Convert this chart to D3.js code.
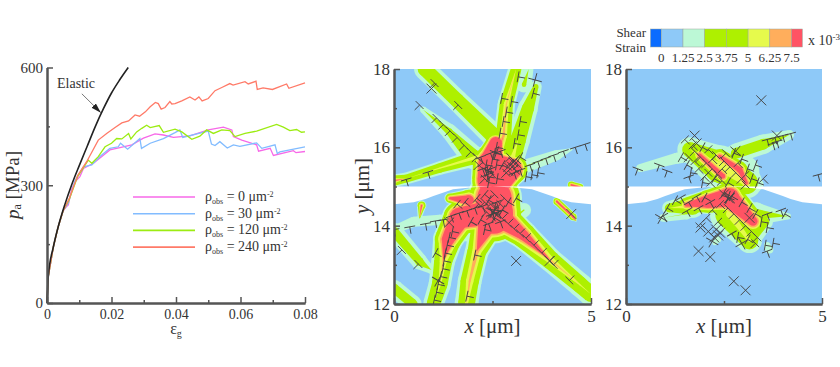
<!DOCTYPE html>
<html>
<head>
<meta charset="utf-8">
<script src="https://cdn.jsdelivr.net/npm/d3@7"></script>
<style>
  html, body { margin: 0; padding: 0; background: #fff; }
  svg { display: block; }
  text { font-family: "Liberation Serif", serif; fill: #333; }
</style>
</head>
<body>
<div id="canvas"></div>
<script>
// stress-strain curves, [strain, MPa]
const start = [[0, 0], [.0004, 68], [.002, 144], [.0035, 195], [.005, 235]];
const elastic = [[0, 0], [.0004, 68], [.002, 144], [.0035, 195], [.0055, 250], [.0076, 300], [.01, 350], [.0125, 400], [.015, 450], [.0175, 495], [.02, 535], [.0225, 568], [.0252, 600]];
const rho0 = [...start, [.006, 245], [.0066, 250], [.0076, 288], [.0087, 309], [.0102, 322], [.0113, 343], [.0144, 356], [.017, 373], [.0195, 390], [.0226, 396], [.0263, 403], [.0299, 420], [.0335, 431], [.0361, 428], [.0392, 422], [.0443, 426], [.05, 441], [.0547, 448], [.0573, 441], [.0578, 424], [.0604, 415], [.065, 403], [.0656, 387], [.0692, 394], [.0702, 376], [.0764, 388], [.0772, 383], [.08, 386]];
const rho30 = [...start, [.0066, 255], [.0087, 312], [.0113, 347], [.0139, 352], [.0164, 373], [.0195, 394], [.0221, 398], [.0228, 407], [.025, 392], [.0288, 419], [.0293, 394], [.032, 407], [.0361, 419], [.0397, 434], [.0412, 441], [.0421, 422], [.0465, 431], [.05, 438], [.051, 405], [.0521, 401], [.0536, 411], [.0559, 395], [.0578, 403], [.0598, 399], [.065, 408], [.0666, 394], [.0707, 403], [.0714, 381], [.0722, 385], [.08, 398]];
const rho120 = [...start, [.0068, 262], [.0095, 322], [.0128, 364], [.0139, 356], [.0159, 373], [.018, 398], [.02, 407], [.0216, 419], [.0232, 418], [.0253, 432], [.026, 418], [.0278, 436], [.0294, 445], [.0309, 453], [.032, 447], [.0348, 452], [.0361, 435], [.0397, 443], [.0418, 436], [.0449, 417], [.0474, 425], [.0495, 441], [.0516, 432], [.0542, 441], [.0567, 439], [.0583, 424], [.0614, 432], [.065, 438], [.0712, 455], [.0733, 448], [.0753, 439], [.0774, 442], [.0789, 435], [.08, 436]];
const rho240 = [...start, [.007, 268], [.0095, 325], [.0123, 360], [.0159, 415], [.0185, 432], [.0211, 447], [.0232, 459], [.0253, 464], [.0273, 479], [.0287, 476], [.0305, 487], [.032, 500], [.0336, 511], [.0345, 508], [.0354, 494], [.0366, 498], [.0381, 513], [.0387, 507], [.0397, 508], [.0418, 515], [.0443, 525], [.0459, 517], [.0471, 525], [.0481, 515], [.05, 521], [.0521, 541], [.0542, 549], [.0567, 559], [.0577, 555], [.0614, 564], [.0624, 558], [.0648, 565], [.0652, 544], [.067, 548], [.0699, 544], [.0743, 558], [.075, 547], [.08, 561]];

const curveNames = ['0', '30', '120', '240'];
const curveColors = ['#f768e8', '#82bcff', '#9cec12', '#ff7a68'];
const curves = [rho0, rho30, rho120, rho240];

// colour bar
const strainLevels = [0, 1.25, 2.5, 3.75, 5, 6.25, 7.5];
const strainLabels = ['0', '1.25', '2.5', '3.75', '5', '6.25', '7.5'];
const strainColors = ['#0a6cff', '#8ec9f8', '#bcf8d6', '#aef000', '#aef000', '#e6fa4c', '#ffae5c', '#ff5364'];

// strain ridges, each point [x, y, half width um, peak strain]
const ridgesA = [
  [[.78, 18, .27, 5], [1.6, 17.2, .27, 5], [2.52, 16.3, .3, 5]],
  [[.74, 16.96, .08, 1.8], [1.4, 16.4, .2, 3.4], [2, 15.75, .3, 5]],
  [[3.1, 18, .2, 5], [2.85, 17.1, .22, 6.5], [2.78, 16.3, .25, 7], [2.6, 15.8, .3, 8]],
  [[3.6, 17.55, .15, 3.5], [3.4, 17, .25, 4.5], [3.15, 16.2, .3, 5], [3, 15.7, .3, 6]],
  [[3.42, 18, .12, 2], [3.3, 17.6, .2, 3]],
  [[0, 15.15, .16, 7.8], [.3, 15.2, .15, 5], [1.16, 15.47, .17, 5.4], [2.1, 15.75, .22, 6]],
  [[3.2, 15.47, .18, 2.6], [4.13, 15.8, .13, 2.3], [4.5, 15.95, .03, 1.6]],
  [[2.58, 16.1, .28, 16], [2.45, 15.6, .48, 18], [2.4, 15.15, .45, 18]],
  [[2.5, 15.6, .42, 16], [3, 15.45, .42, 16], [2.8, 15.1, .32, 16]],
  [[4.5, 15.04, .1, 9], [4.72, 14.98, .1, 9]],
  [[2.55, 14.7, .7, 18], [2.52, 14.3, .75, 20]],
  [[2.52, 14.35, .5, 18], [1.67, 14.2, .45, 16], [1.37, 13.65, .38, 12], [1.25, 13.1, .3, 6.6], [1.16, 12.5, .28, 5.5], [1, 12, .26, 5]],
  [[2.39, 14.1, .45, 16], [2.1, 13.34, .3, 7.3], [1.92, 12.58, .3, 6.7], [1.84, 12, .3, 5.5]],
  [[2.52, 14.35, .5, 18], [3.28, 13.76, .36, 11], [3.96, 13.13, .3, 6.6], [4.72, 12.49, .3, 5.2], [5, 12.25, .3, 5]],
  [[0, 13.9, .1, 2.4], [.5, 14.1, .13, 2.4], [1.16, 14.15, .13, 2.4], [1.6, 14.2, .1, 2.6]],
  [[0, 13.85, .22, 4], [.65, 13.08, .2, 3.8], [.95, 12.87, .1, 2]],
  [[0, 12.4, .22, 4], [.48, 12, .22, 4]],
  [[1.6, 13.68, .07, 2.4], [2.1, 13.66, .07, 2.4]],
  [[1.75, 14.15, .06, 2.4], [2.1, 14.12, .07, 2.4], [2.12, 13.7, .07, 2.4]],
  [[.7, 14.52, .12, 8.5], [.65, 14.2, .05, 3]],
  [[4.13, 14.62, .1, 9], [4.55, 14.22, .1, 9], [4.62, 14.12, .02, 3]],
  [[1.42, 14.7, .14, 9], [1.9, 14.65, .3, 12]],
  [[3.3, 14.4, .18, 2.6], [2.8, 14, .2, 3]]
];
const ridgesB = [
  [[.36, 15.47, .1, 2.1], [1.29, 15.72, .14, 2.3], [1.7, 15.8, .16, 2.5]],
  [[1.63, 15.94, .32, 4.5], [2.4, 15.5, .55, 6], [3.07, 15.1, .4, 6]],
  [[1.88, 15.8, .22, 9], [2.47, 15.26, .22, 10]],
  [[2.39, 15.77, .22, 9], [2.9, 15.43, .24, 10], [3.07, 15.09, .2, 9]],
  [[2.81, 15.85, .25, 4], [3.5, 16.08, .25, 4], [4.17, 16.32, .12, 2.4]],
  [[3, 15.4, .4, 2.3], [3.35, 15.05, .16, 2]],
  [[1.54, 14.53, .22, 9], [2.1, 14.62, .32, 14], [2.64, 14.72, .42, 16]],
  [[2.64, 14.7, .42, 16], [3.24, 14.11, .32, 11]],
  [[1.1, 14.45, .18, 4.5], [1.7, 14.5, .3, 6]],
  [[2.64, 14.3, .5, 5.8], [3.15, 13.62, .32, 5.5]],
  [[.95, 14.2, .1, 2.2], [1.55, 14.3, .14, 2.6]],
  [[3.3, 14.3, .3, 3.5], [4.13, 14.24, .08, 1.9]],
  [[3.55, 14.1, .2, 4], [3.25, 13.7, .22, 3.5]],
  [[3.66, 13.39, .1, 1.9], [3.6, 13.5, .08, 1.6]],
  [[2.26, 13.56, .06, 1.8], [2.35, 13.65, .08, 1.8]]
];

// crack opening, the white gap: [x, y]
const gap = [[0, 15], [5, 15], [5, 14.55], [4.5, 14.6], [4.2, 14.68], [4, 14.76], [3.5, 14.93], [3, 14.98], [2.5, 15], [2, 14.98], [1.5, 14.93], [1, 14.76], [.8, 14.68], [.5, 14.6], [0, 14.55]];

// dislocations [x, y, slip angle in degrees]
const edgeA = [
  [1.03, 17.64, -45], [1.63, 17.08, -45], [.65, 17.08, -45],
  [1.08, 16.75, -45], [1.25, 16.58, -45], [1.42, 16.42, -45], [1.6, 16.25, -45], [1.78, 16.05, -45], [1.95, 15.88, -45], [2.1, 15.75, -45], [2.25, 15.62, -45],
  [3.15, 17.8, 80], [2.73, 17.25, 80], [2.98, 17.17, 80], [2.77, 16.66, 80], [3.2, 16.66, 80], [3.15, 16.32, 80], [2.69, 16.36, 80], [3.53, 17.38, 75], [2.85, 16.9, 80], [3.05, 16.1, 80],
  [3.2, 15.42, 18], [3.45, 15.55, 18], [3.65, 15.64, 18], [3.85, 15.72, 18], [4.05, 15.8, 18], [4.3, 15.9, 18], [4.6, 16, 18], [4.85, 16.08, 18], [3.05, 15.35, 18], [3.35, 15.25, 80], [3.5, 15.3, 80], [3.65, 15.35, 80],
  [.31, 15.18, 17], [.86, 15.37, 17],
  [2.4, 15.1, 80], [2.38, 15.25, 80], [2.36, 15.4, 80], [2.34, 15.55, 80], [2.5, 15.7, 80], [2.55, 15.85, 80], [2.6, 16, 80], [2.2, 15.75, 20], [2.45, 15.85, 20], [2.7, 15.9, 20],
  [2.9, 15.5, -45], [3.05, 15.65, -45], [3.15, 15.55, -45], [2.95, 15.75, -45], [3.1, 15.4, -45], [2.85, 15.35, -45], [3.2, 15.75, 60], [2.75, 15.55, 60],
  [2.3, 15.2, -45], [2.5, 15.3, -45], [2.45, 15.45, 20], [2.25, 15.45, 20], [2.6, 15.55, 80], [2.62, 15.2, 80], [2.15, 15.55, -45], [2.95, 15.6, 45], [3.1, 15.7, 45], [2.9, 15.4, 45],
  [3.95, 13.1, 135], [2.6, 14.28, 135], [2.75, 14.18, 135], [2.9, 14.05, 135], [3.05, 13.92, 135], [3.2, 13.8, 135], [3.35, 13.68, 135], [3.55, 13.5, 135], [3.75, 13.3, 135], [4.05, 13, 135], [4.45, 12.6, 135],
  [1.4, 13.7, 78], [1.35, 13.5, 78], [1.3, 13.3, 78], [1.27, 13.1, 78], [1.24, 12.9, 78], [1.18, 12.7, 78], [1.12, 12.5, 78], [1.08, 12.3, 78], [1.02, 12.1, 78], [1.48, 13.85, 78],
  [2.05, 13.25, 78], [1.85, 12.2, 78], [2.3, 13.9, 78], [2.4, 14.05, 20], [2.7, 14.1, 20],
  [0, 13.9, 10], [.4, 13.97, 10], [.8, 14.05, 10], [1.05, 14.12, 10], [1.25, 14.15, 10], [1.45, 14.25, 20], [1.65, 14.32, 20], [1.85, 14.38, 20], [2.05, 14.45, 20], [2.25, 14.5, 20],
  [1.6, 14.55, 50], [1.8, 14.6, 50], [2.1, 14.7, 50], [2.3, 14.8, 50], [2.45, 14.55, -45], [2.6, 14.45, -45], [2.7, 14.55, -45], [2.35, 14.35, -45], [2.55, 14.2, 60], [2.75, 14.4, 60], [2.9, 14.6, 60], [3.1, 14.7, 60], [2.2, 14.15, 60], [1.95, 14.1, 60],
  [2.4, 14.65, 60], [2.6, 14.6, 20], [2.45, 14.25, 45], [2.65, 14.35, 20], [2.3, 14.6, -45], [2.8, 14.7, -45], [2.15, 14.55, -45], [2.55, 14.8, -45],
  [.2, 13.38, -45], [.62, 13.02, -45], [1.05, 13.3, 60]
];
const crossA = [
  [.95, 17.5, -45], [3.58, 17.72, 75], [2.39, 15.39, 60], [2.36, 15.3, 20], [2.6, 15.86, 70], [3.03, 15.62, 45], [3, 15.5, -45], [2.52, 14.35, 60], [2.52, 14.35, -45], [2.5, 14.3, 20], [2.55, 14.4, 80], [3.95, 13.1, 45], [3.1, 13.1, -45], [4.5, 14.3, 45], [1.12, 12.6, 60], [1.4, 14.08, 45]
];
const edgeB = [
  [.3, 15.45, -20], [.85, 15.55, -20], [1.05, 15.4, -20],
  [1.4, 15.75, 60], [1.55, 15.55, 60], [1.65, 15.35, 80], [1.6, 15.25, 20], [1.75, 15.65, 45], [1.85, 15.45, 45], [2, 15.25, 45], [2.15, 15.1, 45], [1.7, 16.05, 45], [1.5, 16.2, 45], [2.1, 15.95, 45],
  [1.9, 15.75, -45], [2.05, 15.6, -45], [2.2, 15.45, -45], [2.35, 15.3, -45], [2.45, 15.15, -45], [2.3, 15.8, -45], [2.5, 15.65, -45], [2.65, 15.5, -45], [2.8, 15.35, -45], [2.95, 15.2, -45], [3.05, 15.05, -45],
  [2.75, 15.85, 70], [2.95, 15.7, 70], [3.1, 15.45, 70], [3.2, 15.2, 70], [3.35, 15.1, 70], [3.3, 15.55, 70], [3.5, 15.2, 45], [2.6, 15.1, 60],
  [1.75, 15.9, -45], [1.95, 16, 60], [2.2, 15.7, 45], [2.45, 15.45, 45], [2.55, 15.85, -45], [2.1, 15.35, -45], [2.25, 15.2, 60], [1.95, 15.1, 80], [2.85, 15.6, 45], [3.05, 15.3, 45], [1.6, 15.75, -45],
  [3.6, 16.2, 15], [3.8, 16.25, 15], [4, 16.3, 15], [4.2, 16.35, 15], [3.85, 16.15, 15], [3.75, 16.1, 15], [4.9, 15.3, 15],
  [.95, 14.25, 30], [1.05, 14.45, 60], [1.25, 14.65, 60], [1.4, 14.72, 30], [1.6, 14.6, 30], [1.8, 14.75, 30], [2, 14.72, 60], [2.15, 14.6, 30], [1.55, 14.38, 30], [1.85, 14.45, 30], [2.2, 14.4, 45], [2.4, 14.55, 45],
  [2.6, 14.45, -45], [2.75, 14.3, -45], [2.9, 14.15, -45], [3.05, 14, -45], [3.2, 13.85, -45], [3.35, 13.7, -45], [2.5, 14.85, 60], [2.7, 14.75, 60], [2.95, 14.6, 60], [3.15, 14.45, 60], [3.3, 14.3, 60], [3.45, 14.1, 80], [3.6, 13.95, 80], [3.6, 14.3, 20],
  [2.35, 14.1, 45], [2.05, 14.2, 45], [1.9, 14.05, 45], [2.7, 13.8, 30], [2.85, 13.7, 80], [3.1, 13.65, 60], [3.3, 13.55, -45], [3.55, 13.5, 80], [3.75, 13.55, 80], [3.6, 13.35, 20],
  [3.95, 14.4, 20], [4.05, 14.3, 60]
];
const crossB = [
  [3.45, 17.2, -45], [1.75, 16.3, 45], [1.8, 16.1, -45], [3.85, 16.3, -45], [2.8, 15.9, 50], [2.5, 14.8, 45], [2.62, 14.7, -45], [2.65, 14.7, 45], [2.6, 14.72, 70],
  [1.9, 13.95, -45], [2.3, 13.9, 45], [2.35, 13.75, -45], [2.25, 13.7, 45], [2.4, 13.82, -45], [2.2, 13.6, 60], [2.1, 13.85, -45],
  [1.85, 13.35, -45], [2.15, 13.2, -45], [2.75, 12.58, -45], [3.05, 12.35, -45], [2.95, 13.55, 30], [.9, 14.2, 60], [3.15, 14.2, 45]
];

const pX = d3.scaleLinear().domain([0, .08]).range([47, 305]);
const pY = d3.scaleLinear().domain([0, 600]).range([303, 67.5]);
const mapY = d3.scaleLinear().domain([12, 18]).range([304, 69]);
const mapX1 = d3.scaleLinear().domain([0, 5]).range([394, 591]);
const mapX2 = d3.scaleLinear().domain([0, 5]).range([626, 822]);

const svg = d3.select('#canvas').append('svg').attr('width', 840).attr('height', 367);
const ink = '#555';

// the source is a soft raster, so the drawn fields get a slight blur
svg.append('defs').append('filter').attr('id', 'soft').append('feGaussianBlur').attr('stdDeviation', .5);

const styleAxis = function (g, size) {
  g.select('.domain').attr('stroke', ink).attr('stroke-width', 2);
  g.selectAll('.tick line').attr('stroke', ink).attr('stroke-width', 1.5);
  g.selectAll('.tick text').attr('fill', '#333').attr('font-family', '"Liberation Serif", serif').attr('font-size', size);
};

const drawAxes = function (x, y, xTicks, xMinor, yTicks, yMinor, xFmt, yFmt, sizeX, sizeY) {
  const bottom = y.range()[0];
  const left = x.range()[0];
  svg.append('g').attr('transform', `translate(0,${bottom})`)
    .call(d3.axisBottom(x).tickValues(xMinor).tickSizeInner(-3).tickSizeOuter(0).tickFormat(''))
    .call(styleAxis, sizeX);
  svg.append('g').attr('transform', `translate(${left},0)`)
    .call(d3.axisLeft(y).tickValues(yMinor).tickSizeInner(-3).tickSizeOuter(0).tickFormat(''))
    .call(styleAxis, sizeY);
  svg.append('g').attr('transform', `translate(0,${bottom})`)
    .call(d3.axisBottom(x).tickValues(xTicks).tickSizeInner(-6).tickSizeOuter(0).tickPadding(6).tickFormat(xFmt))
    .call(styleAxis, sizeX);
  svg.append('g').attr('transform', `translate(${left},0)`)
    .call(d3.axisLeft(y).tickValues(yTicks).tickSizeInner(-6).tickSizeOuter(0).tickPadding(4).tickFormat(yFmt))
    .call(styleAxis, sizeY);
};

/*
Left plot
*/
const line = d3.line().x(d => pX(d[0])).y(d => pY(d[1]));
svg.append('g').selectAll('path').data(curves).join('path')
  .attr('d', line).attr('fill', 'none').attr('stroke-width', 1.3)
  .attr('stroke', (d, i) => curveColors[i]);
svg.append('path').attr('d', line.curve(d3.curveMonotoneX)(elastic)).attr('fill', 'none').attr('stroke', '#222').attr('stroke-width', 1.6);
line.curve(d3.curveLinear);
drawAxes(pX, pY, [0, .02, .04, .06, .08], [.01, .03, .05, .07], [0, 300, 600], [150, 450],
  d => d === 0 ? '0' : d3.format('.2f')(d), d => d, 14, 15);

// elastic note
svg.append('text').attr('x', pX(.0031)).attr('y', pY(548)).attr('font-size', 14).text('Elastic');
svg.select('defs').append('marker').attr('id', 'head').attr('viewBox', '0 0 10 6').attr('refX', 10).attr('refY', 3)
  .attr('markerWidth', 10).attr('markerHeight', 6).attr('orient', 'auto').attr('markerUnits', 'userSpaceOnUse')
  .append('path').attr('d', 'M0,0L10,3L0,6Z').attr('fill', '#222');
svg.append('line').attr('x1', pX(.0108)).attr('y1', pY(533)).attr('x2', pX(.0167)).attr('y2', pY(485))
  .attr('stroke', '#555').attr('stroke-width', .8).attr('marker-end', 'url(#head)');

// legend
const legend = svg.append('g').selectAll('g').data(curveNames).join('g')
  .attr('transform', (d, i) => `translate(0,${197 + i * 16.7})`);
legend.append('line').attr('x1', 133).attr('x2', 195)
  .attr('stroke', (d, i) => curveColors[i]).attr('stroke-width', 1.6);
const legendText = legend.append('text').attr('x', 205).attr('y', 4).attr('font-size', 14);
legendText.append('tspan').text('ρ');
legendText.append('tspan').attr('font-size', 8).attr('dy', 3).text('obs');
legendText.append('tspan').attr('dy', -3).text(d => ` = ${d} μm`);
legendText.append('tspan').attr('font-size', 8).attr('dy', -4).text('-2');

const pLabel = svg.append('text').attr('transform', 'translate(19,185) rotate(-90)').attr('text-anchor', 'middle').attr('font-size', 19);
pLabel.append('tspan').attr('font-style', 'italic').text('p');
pLabel.append('tspan').attr('font-size', 12).attr('dy', 2).text('a');
pLabel.append('tspan').attr('dy', -2).text(' [MPa]');
const eLabel = svg.append('text').attr('x', 176).attr('y', 334).attr('text-anchor', 'middle').attr('font-size', 16);
eLabel.append('tspan').text('ε');
eLabel.append('tspan').attr('font-size', 10).attr('dy', 3).text('g');

/*
Strain maps
*/
const levelWidth = (w, peak, t) => Math.max(0, w * (peak - t) / (peak - 1.25));

const ridgeShapes = function (ridges, x, y, t) {
  const k = Math.abs(x(1) - x(0));
  const shapes = [];
  ridges.forEach(r => {
    const pts = r.map(p => ({ px: x(p[0]), py: y(p[1]), w: levelWidth(p[2], p[3], t) * k }));
    pts.forEach((a, i) => {
      if (a.w > 0) {
        const c = d3.path();
        c.arc(a.px, a.py, a.w, 0, 2 * Math.PI);
        shapes.push(c.toString());
      }
      const b = pts[i + 1];
      if (!b || (a.w <= 0 && b.w <= 0)) return;
      const len = Math.hypot(b.px - a.px, b.py - a.py);
      const nx = -(b.py - a.py) / len;
      const ny = (b.px - a.px) / len;
      const q = d3.path();
      q.moveTo(a.px + nx * a.w, a.py + ny * a.w);
      q.lineTo(b.px + nx * b.w, b.py + ny * b.w);
      q.lineTo(b.px - nx * b.w, b.py - ny * b.w);
      q.lineTo(a.px - nx * a.w, a.py - ny * a.w);
      q.closePath();
      shapes.push(q.toString());
    });
  });
  return shapes;
};

const drawMap = function (id, x, ridges, edges, crosses) {
  const [x0, x1] = x.range();
  const [y0, y1] = mapY.range();
  svg.append('clipPath').attr('id', id).append('rect')
    .attr('x', x0).attr('y', y1).attr('width', x1 - x0).attr('height', y0 - y1);
  const g = svg.append('g').attr('clip-path', `url(#${id})`);
  g.append('rect').attr('x', x0).attr('y', y1).attr('width', x1 - x0).attr('height', y0 - y1).attr('fill', strainColors[1]);
  const field = g.append('g').attr('filter', 'url(#soft)');
  // one layer per colour band, lowest strain first
  [[1.25, 2], [2.5, 3], [5, 5], [6.25, 6], [7.5, 7]].forEach(([t, c]) => {
    field.append('g').selectAll('path').data(ridgeShapes(ridges, x, mapY, t)).join('path')
      .attr('d', d => d).attr('fill', strainColors[c]);
  });
  g.append('path').attr('fill', '#fff')
    .attr('d', d3.line().x(d => x(d[0])).y(d => mapY(d[1])).curve(d3.curveLinear)(gap));
  g.append('g').selectAll('path').data(edges).join('path')
    .attr('transform', d => `translate(${x(d[0])},${mapY(d[1])}) rotate(${-d[2]})`)
    .attr('d', 'M-5.5,0L5.5,0M0,0L0,7').attr('fill', 'none').attr('stroke', '#444').attr('stroke-width', .9);
  g.append('g').selectAll('path').data(crosses).join('path')
    .attr('transform', d => `translate(${x(d[0])},${mapY(d[1])}) rotate(${-d[2]})`)
    .attr('d', 'M-7,0L7,0M0,-7L0,7').attr('fill', 'none').attr('stroke', '#444').attr('stroke-width', .9);
  drawAxes(x, mapY, [0, 5], [2.5], [12, 14, 16, 18], [13, 15, 17], d => d, d => d, 17, 17);
  const lab = svg.append('text').attr('x', (x0 + x1) / 2).attr('y', 333).attr('text-anchor', 'middle').attr('font-size', 21);
  lab.append('tspan').attr('font-style', 'italic').text('x');
  lab.append('tspan').text(' [μm]');
};

drawMap('map-a', mapX1, ridgesA, edgeA, crossA);
drawMap('map-b', mapX2, ridgesB, edgeB, crossB);

const yLabel = svg.append('text').attr('transform', 'translate(369,186) rotate(-90)').attr('text-anchor', 'middle').attr('font-size', 21);
yLabel.append('tspan').attr('font-style', 'italic').text('y');
yLabel.append('tspan').text(' [μm]');

/*
Colour bar
*/
const step = d3.scaleLinear().domain([0, 1.25]).range([661.3, 683]);
const cells = strainColors.map((c, i) => ({
  c, a: i === 0 ? -.625 : strainLevels[i - 1], b: i === strainLevels.length ? 8.125 : strainLevels[i]
}));
svg.append('g').selectAll('rect').data(cells).join('rect')
  .attr('x', d => step(d.a)).attr('y', 29).attr('width', d => step(d.b) - step(d.a)).attr('height', 18)
  .attr('fill', d => d.c).attr('stroke', '#9aa79a').attr('stroke-width', .5);
svg.append('g').selectAll('text').data(strainLevels).join('text')
  .attr('x', d => step(d)).attr('y', 62).attr('text-anchor', 'middle').attr('font-size', 13)
  .text((d, i) => strainLabels[i]);
svg.append('text').attr('x', 646).attr('y', 37).attr('text-anchor', 'end').attr('font-size', 13).text('Shear');
svg.append('text').attr('x', 646).attr('y', 52).attr('text-anchor', 'end').attr('font-size', 13).text('Strain');
const unit = svg.append('text').attr('x', 808).attr('y', 45).attr('font-size', 14);
unit.append('tspan').text('x 10');
unit.append('tspan').attr('font-size', 9).attr('dy', -5).text('-3');
</script>
</body>
</html>
